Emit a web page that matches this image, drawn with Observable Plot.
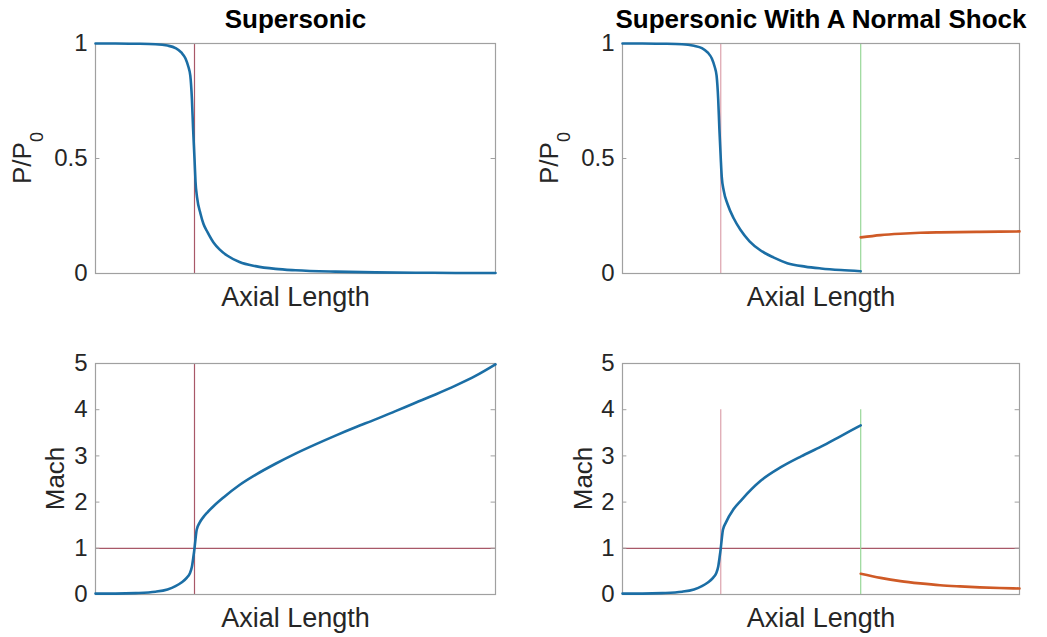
<!DOCTYPE html>
<html><head><meta charset="utf-8">
<script src="https://cdn.jsdelivr.net/npm/d3@7"></script>
<script src="https://cdn.jsdelivr.net/npm/@observablehq/plot@0.6"></script>
<style>
body{margin:0;background:#fff;}
#fig{position:relative;width:1047px;height:637px;background:#fff;}
#fig svg{position:absolute;overflow:visible;}
</style></head><body><div id="fig"></div>
<script>
// ---------- text ----------
const titles = ["Supersonic", "Supersonic With A Normal Shock"];
const xLabel = "Axial Length";
const pLabelMain = "P/P", pLabelSub = "0";
const machLabel = "Mach";

// ---------- ticks ----------
const pTicks = [0, 0.5, 1];
const machTicks = [0, 1, 2, 3, 4, 5];

// ---------- reference lines ----------
const throatX = 0.2475;
const shockX = 0.6;
const sonicMach = 1;
const shockLineTop = 4;

// ---------- Supersonic: pressure ratio ----------
const supPX = [0,0.05,0.1,0.15,0.18,0.2,0.215,0.225,0.232,0.237,0.241,0.244,0.2475,0.25,0.254,0.2625,0.27,0.28,0.295,0.31,0.33,0.36,0.4,0.45,0.5,0.6,0.7,0.8,0.9,1];
const supP  = [1,1,0.999,0.997,0.991,0.98,0.96,0.935,0.9,0.86,0.76,0.63,0.5,0.4,0.33,0.26,0.215,0.18,0.135,0.105,0.077,0.05,0.032,0.02,0.014,0.008,0.005,0.0035,0.0025,0.002];

// ---------- Supersonic: Mach ----------
const supMX = [0,0.05,0.1,0.15,0.18,0.2,0.215,0.228,0.236,0.241,0.2445,0.2475,0.25,0.253,0.26,0.27,0.28,0.295,0.32,0.36,0.4,0.45,0.5,0.55,0.6,0.65,0.7,0.75,0.8,0.85,0.9,0.95,1];
const supM  = [0.02,0.02,0.03,0.06,0.11,0.18,0.26,0.36,0.46,0.6,0.8,1.0,1.2,1.4,1.55,1.68,1.78,1.91,2.1,2.37,2.59,2.83,3.05,3.25,3.44,3.62,3.79,3.97,4.15,4.33,4.52,4.73,4.98];

// ---------- Normal shock: pressure ratio ----------
const shkPX = [0,0.05,0.1,0.15,0.18,0.2,0.215,0.225,0.232,0.237,0.241,0.244,0.2475,0.25,0.255,0.265,0.28,0.297,0.32,0.348,0.38,0.415,0.46,0.5,0.55,0.6];
const shkP  = [1,1,0.999,0.997,0.99,0.98,0.96,0.935,0.9,0.86,0.76,0.63,0.5,0.42,0.36,0.3,0.24,0.19,0.14,0.1,0.07,0.045,0.03,0.022,0.015,0.01];
const postPX = [0.6,0.65,0.7,0.75,0.8,0.9,1];
const postP  = [0.157,0.167,0.173,0.177,0.179,0.181,0.183];

// ---------- Normal shock: Mach ----------
const shkMX = [0,0.05,0.1,0.15,0.18,0.2,0.215,0.228,0.236,0.241,0.2445,0.2475,0.25,0.253,0.26,0.28,0.3,0.348,0.4,0.45,0.5,0.55,0.6];
const shkM  = [0.02,0.02,0.03,0.06,0.11,0.18,0.26,0.36,0.46,0.6,0.8,1.0,1.2,1.4,1.55,1.85,2.05,2.46,2.76,2.99,3.2,3.43,3.66];
const postMX = [0.6,0.65,0.7,0.75,0.8,0.85,0.9,0.95,1];
const postM  = [0.45,0.36,0.29,0.24,0.2,0.175,0.155,0.14,0.13];

// ---------- styles ----------
const blue = "#1b6ea5", orange = "#cf5a26";
const redDark = "#a85868", redLight = "#dca2ac", green = "#98d898";
const boxColor = "#a0a0a0", textColor = "#262626";
const font = "'Liberation Sans', Arial, Helvetica, sans-serif";

const toRows = (xs, ys) => xs.map((x, i) => ({x, y: ys[i]}));

function panel(o) {
  const marks = [
    ...o.hlines.map(h => Plot.ruleY([h.y], {stroke: h.stroke, strokeWidth: 1.2})),
    ...o.vlines.map(v => Plot.ruleX([v.x], {y1: 0, y2: v.top, stroke: v.stroke, strokeWidth: 1.2})),
    Plot.frame({stroke: boxColor, strokeWidth: 1.2}),
    Plot.ruleY(o.yTicks, {x1: 0, x2: 0.011, stroke: boxColor}),
    Plot.ruleY(o.yTicks, {x1: 0.989, x2: 1, stroke: boxColor}),
    Plot.axisY(o.yTicks, {anchor: "left", tickSize: 0, tickPadding: 8, label: null,
      tickFormat: d => String(d), fontSize: 24, fill: textColor}),
    ...o.series.map(s => Plot.line(s.data, {x: "x", y: "y", stroke: s.stroke, strokeWidth: 2.6, curve: "monotone-x"})),
    Plot.text([xLabel], {text: d => d, frameAnchor: "bottom", dy: 32, lineAnchor: "bottom", fontSize: 27, fill: textColor})
  ];
  if (o.title) marks.push(Plot.text([o.title], {text: d => d, frameAnchor: "top", dy: -16, lineAnchor: "bottom",
    fontSize: 26, fontWeight: "bold", fill: "#000"}));
  const svg = Plot.plot({
    width: o.width, height: o.height,
    marginLeft: o.mL, marginRight: o.mR, marginTop: o.mT, marginBottom: o.mB,
    style: {fontFamily: font, background: "transparent", overflow: "visible"},
    x: {domain: [0, 1], axis: null},
    y: {domain: o.yDomain},
    marks
  });
  svg.style.left = o.left + "px";
  svg.style.top = o.top + "px";
  const s = d3.select(svg);
  const yc = o.mT + (o.height - o.mT - o.mB) / 2;
  const t = s.append("text")
    .attr("transform", `translate(${o.labelX},${yc}) rotate(-90)`)
    .attr("text-anchor", "middle").attr("font-size", 26).attr("fill", textColor)
    .attr("font-family", font);
  if (o.ylabel === "P") {
    t.append("tspan").text(pLabelMain);
    t.append("tspan").attr("font-size", 18).attr("dy", 12).text(pLabelSub);
  } else {
    t.append("tspan").text(machLabel);
  }
  document.getElementById("fig").appendChild(svg);
}

panel({left: 0, top: 0, width: 523, height: 320, mL: 95, mR: 28, mT: 43, mB: 47,
  yDomain: [0, 1], yTicks: pTicks, ylabel: "P", labelX: 31, title: titles[0],
  hlines: [], vlines: [{x: throatX, top: 1, stroke: redDark}],
  series: [{data: toRows(supPX, supP), stroke: blue}]});

panel({left: 523, top: 0, width: 524, height: 320, mL: 99, mR: 28, mT: 43, mB: 47,
  yDomain: [0, 1], yTicks: pTicks, ylabel: "P", labelX: 35, title: titles[1],
  hlines: [], vlines: [{x: throatX, top: 1, stroke: redLight}, {x: shockX, top: 1, stroke: green}],
  series: [{data: toRows(shkPX, shkP), stroke: blue}, {data: toRows(postPX, postP), stroke: orange}]});

panel({left: 0, top: 320, width: 523, height: 317, mL: 95, mR: 28, mT: 43, mB: 43,
  yDomain: [0, 5], yTicks: machTicks, ylabel: "M", labelX: 64,
  hlines: [{y: sonicMach, stroke: redDark}], vlines: [{x: throatX, top: 5, stroke: redDark}],
  series: [{data: toRows(supMX, supM), stroke: blue}]});

panel({left: 523, top: 320, width: 524, height: 317, mL: 99, mR: 28, mT: 43, mB: 43,
  yDomain: [0, 5], yTicks: machTicks, ylabel: "M", labelX: 69,
  hlines: [{y: sonicMach, stroke: redDark}],
  vlines: [{x: throatX, top: shockLineTop, stroke: redLight}, {x: shockX, top: shockLineTop, stroke: green}],
  series: [{data: toRows(shkMX, shkM), stroke: blue}, {data: toRows(postMX, postM), stroke: orange}]});
</script></body></html>
